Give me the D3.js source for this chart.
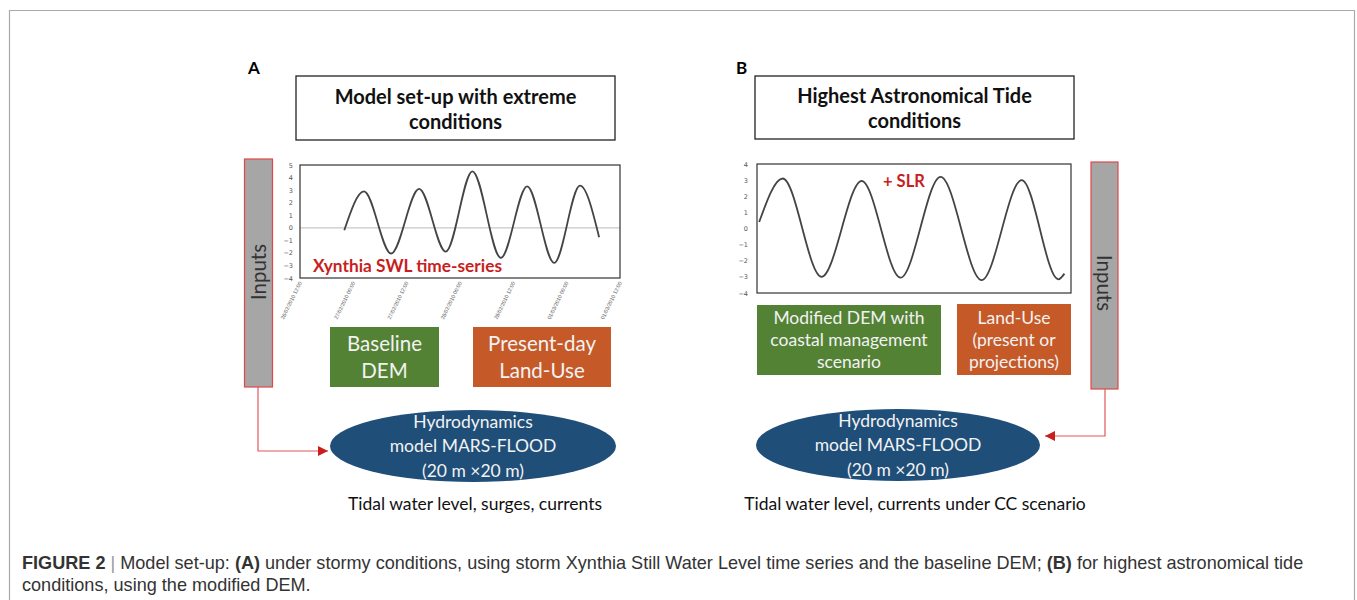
<!DOCTYPE html>
<html>
<head>
    <meta charset="UTF-8">
    <title>Model set-up</title>
    <script src="https://d3js.org/d3.v7.min.js"></script>
    <style>
        *{
            padding:0;
            margin:0;
        }
        body{
            background:#fff;
        }
        .diagram text{
            font-family: Lato, "Open Sans", sans-serif;
        }
        .caption text{
            font-family: "Liberation Sans", Arial, sans-serif;
        }
        .tick text{
            font-family: "DejaVu Sans", sans-serif;
            fill:#555;
        }
        .dates .tick text{
            font-family: "Liberation Sans", Arial, sans-serif;
        }
    </style>
</head>
<body>
<svg id="main" width="1357" height="600"></svg>
<script>
// ---- data ----
// panel A: Xynthia still water level (m), hours after 26/02/2010 12:00 UTC
const hoursA = [9.96, 14.4, 20.5, 26.8, 32.8, 38.8, 45.2, 51.1, 57.2, 63.0, 67.3];
const swlA   = [-0.2, 2.9, -2.05, 3.1, -1.9, 4.5, -2.4, 3.3, -2.8, 3.35, -0.75];
const yTicksA = [-4, -3, -2, -1, 0, 1, 2, 3, 4, 5];

// panel B: highest astronomical tide + SLR (m), hours from start of series
const hoursB = [0.5, 5.9, 14.8, 24.0, 32.9, 42.1, 51.5, 60.7, 69.1, 70.5];
const tideB  = [0.4, 3.1, -3.0, 2.95, -3.05, 3.2, -3.2, 3.0, -3.15, -2.8];
const yTicksB = [-4, -3, -2, -1, 0, 1, 2, 3, 4];

const titles = ["Model set-up with extreme|conditions", "Highest Astronomical Tide|conditions"];
const boxesA = ["Baseline|DEM", "Present-day|Land-Use"];
const boxesB = ["Modified DEM with|coastal management|scenario", "Land-Use|(present or|projections)"];
const modelLines = ["Hydrodynamics", "model MARS-FLOOD", "(20 m \u00d720 m)"];
const outputs = ["Tidal water level, surges, currents", "Tidal water level, currents under CC scenario"];

const green = "#548235", orange = "#c55a28", navy = "#1f4e79", red = "#c81e1e";

const svg = d3.select("#main");

// outer frame of the figure
svg.append("path")
    .attr("d", "M9.5,600 V10.5 H1354.5 V600")
    .attr("fill", "none")
    .attr("stroke", "#aaa")
    .attr("stroke-width", 1.2);

svg.append("defs").append("marker")
    .attr("id", "arrow")
    .attr("viewBox", "0 0 10 10")
    .attr("refX", 10).attr("refY", 5)
    .attr("markerWidth", 10).attr("markerHeight", 10)
    .attr("markerUnits", "userSpaceOnUse")
    .attr("orient", "auto")
    .append("path")
    .attr("d", "M0,0 L10,5 L0,10 Z")
    .attr("fill", red);

const g = svg.append("g").attr("class", "diagram");

function multiText(parent, lines, cx, cy, step, size, fill, weight) {
    const t = parent.append("text")
        .attr("text-anchor", "middle")
        .attr("font-size", size)
        .attr("font-weight", weight || "normal")
        .attr("fill", fill);
    const y0 = cy - (lines.length - 1) * step / 2;
    lines.forEach((l, i) => {
        t.append("tspan").attr("x", cx).attr("y", y0 + i * step).attr("dy", "0.35em").text(l);
    });
    return t;
}

function titleBox(x, y, w, h, label, letterX) {
    g.append("text").attr("x", letterX).attr("y", 74)
        .attr("font-size", 17).attr("font-weight", "bold")
        .attr("font-family", "'Liberation Sans', Arial, sans-serif")
        .text(label.letter);
    g.append("rect").attr("x", x).attr("y", y).attr("width", w).attr("height", h)
        .attr("fill", "#fff").attr("stroke", "#222").attr("stroke-width", 1.3);
    multiText(g, label.text.split("|"), x + w / 2, y + h / 2 + 1, 25, 20, "#111", "bold");
}

function colorBox(x, y, w, h, fill, lines, step, size) {
    g.append("rect").attr("x", x).attr("y", y).attr("width", w).attr("height", h).attr("fill", fill);
    multiText(g, lines.split("|"), x + w / 2, y + h / 2, step, size, "#f2f2f2");
}

function inputsBar(x, y, w, h, rot, cy) {
    g.append("rect").attr("x", x).attr("y", y).attr("width", w).attr("height", h)
        .attr("fill", "#a6a6a6").attr("stroke", "#e04848").attr("stroke-width", 1.2);
    const cx = x + w / 2;
    g.append("text")
        .attr("transform", `translate(${cx},${cy}) rotate(${rot})`)
        .attr("text-anchor", "middle").attr("dy", "0.35em")
        .attr("font-size", 20.5).attr("fill", "#333")
        .text("Inputs");
}

function model(cx, cy, rx, ry, out, outX) {
    g.append("ellipse").attr("cx", cx).attr("cy", cy).attr("rx", rx).attr("ry", ry).attr("fill", navy);
    multiText(g, modelLines, cx, cy, 24.5, 17.5, "#f2f2f2");
    g.append("text").attr("x", outX).attr("y", 504).attr("dy", "0.35em")
        .attr("text-anchor", "middle").attr("font-size", 17.5).attr("fill", "#111")
        .text(out);
}

function tideChart(opt) {
    const x = d3.scaleLinear().domain([0, 72]).range([opt.x0, opt.x1]);
    const y = d3.scaleLinear().domain(opt.yDomain).range([opt.y1, opt.y0]);
    const c = g.append("g");
    if (opt.zero) {
        c.append("line")
            .attr("x1", opt.x0).attr("x2", opt.x1)
            .attr("y1", y(0)).attr("y2", y(0))
            .attr("stroke", "#c8c8c8").attr("stroke-width", 1.2);
    }
    c.append("rect")
        .attr("x", opt.x0).attr("y", opt.y0)
        .attr("width", opt.x1 - opt.x0).attr("height", opt.y1 - opt.y0)
        .attr("fill", "none").attr("stroke", "#333").attr("stroke-width", 1.2);
    const yAxis = c.append("g")
        .attr("transform", `translate(${opt.x0},0)`)
        .call(d3.axisLeft(y).tickValues(opt.yTicks).tickSize(0).tickPadding(opt.pad));
    yAxis.select(".domain").remove();
    yAxis.selectAll("text").attr("font-size", 6.5);
    const line = d3.line()
        .x(d => x(d[0]))
        .y(d => y(d[1]))
        .curve(d3.curveMonotoneX);
    c.append("path")
        .datum(d3.zip(opt.hours, opt.values))
        .attr("d", line)
        .attr("fill", "none")
        .attr("stroke", "#444")
        .attr("stroke-width", 1.8);
    return { c, x, y };
}

// ---------- panel A ----------
titleBox(296, 76, 319, 64, { letter: "A", text: titles[0] }, 248);
inputsBar(244.5, 159, 28, 228, -90, 272);

const chartA = tideChart({
    x0: 300, x1: 620, y0: 165, y1: 278,
    yDomain: [-4, 5], yTicks: yTicksA, pad: 7,
    hours: hoursA, values: swlA, zero: true
});

const t0 = new Date(Date.UTC(2010, 1, 26, 12));
const timeX = d3.scaleUtc()
    .domain([t0, d3.utcHour.offset(t0, 72)])
    .range([300, 620]);
const xAxisA = chartA.c.append("g")
    .attr("class", "dates")
    .attr("transform", "translate(0,282)")
    .call(d3.axisBottom(timeX)
        .ticks(d3.utcHour.every(12))
        .tickSize(0).tickPadding(0)
        .tickFormat(d3.utcFormat("%d/%m/%Y %H:%M")));
xAxisA.select(".domain").remove();
xAxisA.selectAll("text")
    .attr("font-size", 5.3)
    .attr("fill", "#333")
    .attr("text-anchor", "end")
    .attr("dy", "0.3em")
    .attr("y", 0)
    .attr("transform", "rotate(-64)");

g.append("text").attr("x", 313).attr("y", 272)
    .attr("font-size", 17.3).attr("font-weight", "bold").attr("fill", red)
    .text("Xynthia SWL time-series");

colorBox(330, 327, 109, 60, green, boxesA[0], 27, 20.5);
colorBox(473, 327, 138, 60, orange, boxesA[1], 27, 20.5);
model(473, 446, 143, 36, outputs[0], 475);

g.append("path")
    .attr("d", "M258,387 V451 H328")
    .attr("fill", "none").attr("stroke", "#e05858").attr("stroke-width", 1.2)
    .attr("marker-end", "url(#arrow)");

// ---------- panel B ----------
titleBox(755, 76, 319, 63, { letter: "B", text: titles[1] }, 736);
inputsBar(1091, 162, 27, 227, 90, 283);

tideChart({
    x0: 757, x1: 1071, y0: 164, y1: 293,
    yDomain: [-4, 4], yTicks: yTicksB, pad: 9,
    hours: hoursB, values: tideB, zero: false
});

g.append("text").attr("x", 883).attr("y", 187)
    .attr("font-size", 16.5).attr("font-weight", "bold").attr("fill", red)
    .text("+ SLR");

colorBox(757, 305, 184, 70, green, boxesB[0], 22, 17.5);
colorBox(957, 304, 114, 71, orange, boxesB[1], 22, 17.5);
model(898, 445, 142, 36, outputs[1], 915);

g.append("path")
    .attr("d", "M1105,389 V436 H1045")
    .attr("fill", "none").attr("stroke", "#e05858").attr("stroke-width", 1.2)
    .attr("marker-end", "url(#arrow)");

// ---------- caption ----------
const cap = svg.append("g").attr("class", "caption");
const l1 = cap.append("text").attr("x", 22).attr("y", 569).attr("font-size", 18.1).attr("fill", "#333");
l1.append("tspan").attr("font-weight", "bold").text("FIGURE 2");
l1.append("tspan").attr("fill", "#999").text(" | ");
l1.append("tspan").text("Model set-up: ");
l1.append("tspan").attr("font-weight", "bold").text("(A)");
l1.append("tspan").text(" under stormy conditions, using storm Xynthia Still Water Level time series and the baseline DEM; ");
l1.append("tspan").attr("font-weight", "bold").text("(B)");
l1.append("tspan").text(" for highest astronomical tide");
cap.append("text").attr("x", 22).attr("y", 591).attr("font-size", 18.1).attr("fill", "#333")
    .text("conditions, using the modified DEM.");
</script>
</body>
</html>
